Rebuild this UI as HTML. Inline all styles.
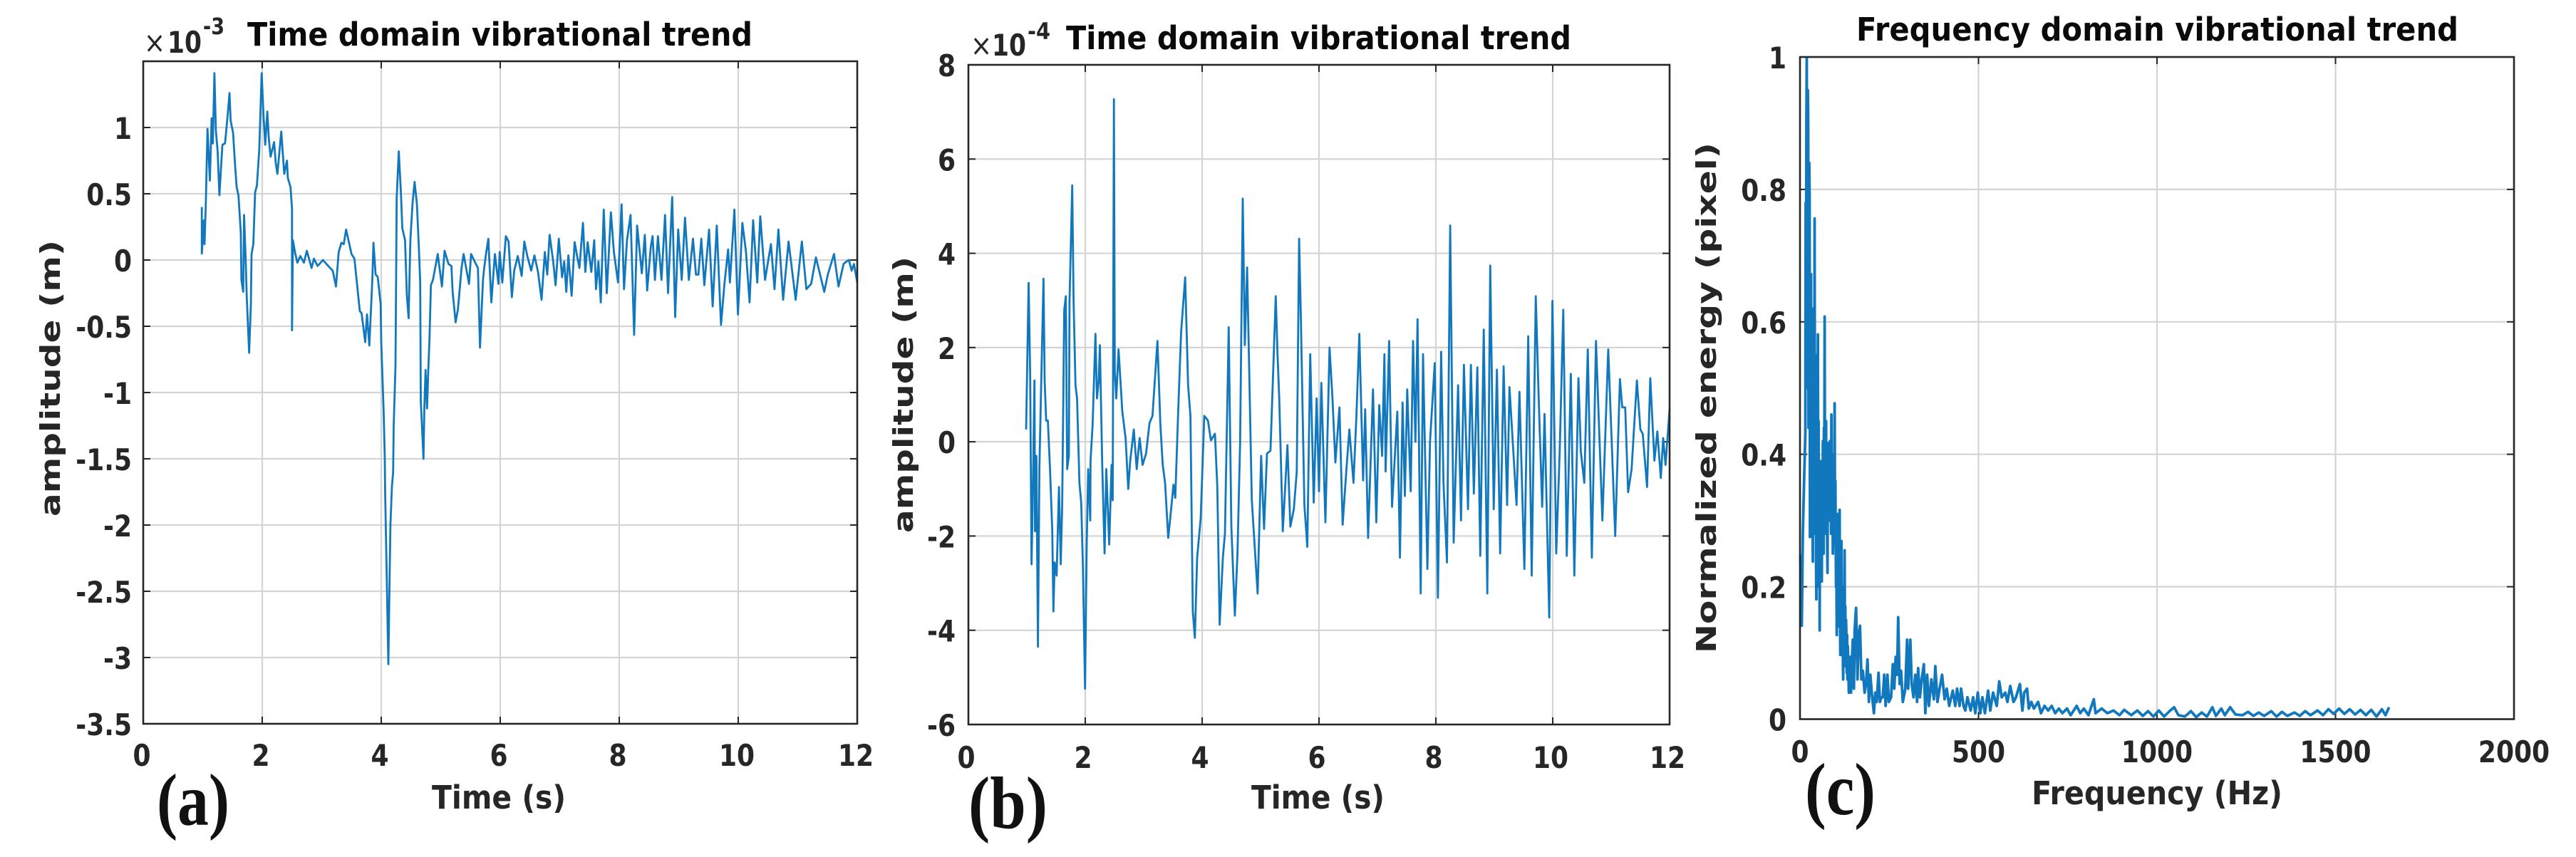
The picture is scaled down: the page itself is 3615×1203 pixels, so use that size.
<!DOCTYPE html>
<html lang="en">
<head>
<meta charset="utf-8">
<title>Vibrational trend charts</title>
<style>
html,body{margin:0;padding:0;background:#fff;width:3615px;height:1203px;overflow:hidden}
svg{display:block}
text{font-family:"DejaVu Sans","Liberation Sans",sans-serif;fill:#262626}
.bold{font-weight:bold}
.title{font-weight:bold;font-size:38px;fill:#0a0a0a}
.axl{font-weight:bold;font-size:38px}
.tick{font-weight:bold;font-size:36px}
.panel{font-family:"Liberation Serif",serif;font-weight:bold;font-size:90px;fill:#111}
</style>
</head>
<body>
<svg id="fig" xmlns="http://www.w3.org/2000/svg" width="3615" height="1203" viewBox="0 0 3615 1203">
  <rect x="0" y="0" width="3615" height="1203" fill="#ffffff"/>

  <g id="chart-a"></g>
  <g id="chart-b"></g>
  <g id="chart-c"></g>

  <!-- Panel a text -->
  <text class="title" transform="translate(347,64) scale(1,1.2)" textLength="709" lengthAdjust="spacingAndGlyphs">Time domain vibrational trend</text>
  <text class="axl" transform="translate(84,725) rotate(-90)" textLength="388" lengthAdjust="spacingAndGlyphs">amplitude (m)</text>
  <text class="axl" transform="translate(606,1135) scale(1,1.2)" textLength="188" lengthAdjust="spacingAndGlyphs">Time (s)</text>
  <text font-size="36" transform="translate(202,74) scale(1,1.15)">×</text>
  <text class="bold" font-size="36" transform="translate(235,74) scale(1,1.15)" textLength="48" lengthAdjust="spacingAndGlyphs">10</text>
  <text class="bold" font-size="28" transform="translate(285,48) scale(1,1.15)" textLength="30" lengthAdjust="spacingAndGlyphs">-3</text>
  <text class="panel" transform="translate(220,1158) scale(1,1.15)" textLength="102" lengthAdjust="spacingAndGlyphs">(a)</text>

  <!-- Panel b text -->
  <text class="title" transform="translate(1496,69) scale(1,1.2)" textLength="709" lengthAdjust="spacingAndGlyphs">Time domain vibrational trend</text>
  <text class="axl" transform="translate(1281,748) rotate(-90)" textLength="388" lengthAdjust="spacingAndGlyphs">amplitude (m)</text>
  <text class="axl" transform="translate(1756,1135) scale(1,1.2)" textLength="187" lengthAdjust="spacingAndGlyphs">Time (s)</text>
  <text font-size="36" transform="translate(1362,78) scale(1,1.15)">×</text>
  <text class="bold" font-size="36" transform="translate(1392,78) scale(1,1.15)" textLength="48" lengthAdjust="spacingAndGlyphs">10</text>
  <text class="bold" font-size="28" transform="translate(1442,55) scale(1,1.15)" textLength="32" lengthAdjust="spacingAndGlyphs">-4</text>
  <text class="panel" transform="translate(1359,1162) scale(1,1.15)" textLength="111" lengthAdjust="spacingAndGlyphs">(b)</text>

  <!-- Panel c text -->
  <text class="title" transform="translate(2605,57) scale(1,1.2)" textLength="845" lengthAdjust="spacingAndGlyphs">Frequency domain vibrational trend</text>
  <text class="axl" transform="translate(2408,917) rotate(-90)" textLength="717" lengthAdjust="spacingAndGlyphs">Normalized energy (pixel)</text>
  <text class="axl" transform="translate(2851,1129) scale(1,1.2)" textLength="352" lengthAdjust="spacingAndGlyphs">Frequency (Hz)</text>
  <text class="panel" transform="translate(2533,1143) scale(1,1.15)" textLength="99" lengthAdjust="spacingAndGlyphs">(c)</text>
</svg>

<script>
// ---------- Chart A data (time in s, amplitude in 1e-3 m) ----------
const timeA = [
.985,.985,1.02,1.03,1.05,1.08,1.12,1.14,1.15,1.17,
1.196,1.22,1.25,1.28,1.33,1.375,1.42,1.45,1.47,1.51,
1.54,1.57,1.60,1.64,1.65,1.68,1.695,1.72,1.74,1.78,
1.81,1.82,1.85,1.88,1.91,1.95,1.99,2.02,2.05,2.085,
2.11,2.14,2.2,2.225,2.255,2.32,2.37,2.415,2.43,2.475,
2.50,2.50,2.515,2.55,2.59,2.64,2.70,2.75,2.83,2.87,
2.93,3.02,3.12,3.185,3.24,3.285,3.33,3.37,3.41,3.5,
3.55,3.64,3.67,3.73,3.76,3.80,3.85,3.87,3.905,3.94,
3.99,4.0,4.04,4.06,4.065,4.08,4.12,4.14,4.155,4.18,
4.2,4.21,4.24,4.26,4.295,4.33,4.355,4.40,4.43,4.46,
4.49,4.525,4.56,4.6,4.63,4.655,4.665,4.71,4.725,4.745,
4.77,4.79,4.81,4.835,4.87,4.95,5.02,5.065,5.13,5.18,
5.2,5.25,5.29,5.35,5.385,5.475,5.51,5.58,5.625,5.66,
5.71,5.73,5.76,5.8,5.85,5.91,5.97,5.99,6.035,6.095,
6.14,6.195,6.235,6.295,6.36,6.405,6.455,6.52,6.575,6.635,
6.695,6.75,6.79,6.83,6.89,6.93,6.985,7.04,7.075,7.11,
7.145,7.2,7.25,7.29,7.33,7.39,7.43,7.47,7.53,7.58,
7.61,7.65,7.69,7.74,7.79,7.86,7.91,7.98,8.04,8.08,
8.13,8.19,8.25,8.30,8.38,8.43,8.47,8.53,8.56,8.6,
8.65,8.71,8.77,8.82,8.89,8.94,8.99,9.05,9.105,9.17,
9.24,9.29,9.33,9.38,9.43,9.51,9.57,9.64,9.71,9.77,
9.83,9.86,9.935,9.995,10.07,10.13,10.19,10.25,10.32,10.37,
10.45,10.55,10.61,10.675,10.755,10.845,10.965,11.07,11.145,11.225,
11.305,11.445,11.505,11.61,11.685,11.77,11.82,11.86,11.905,11.945,
12.0];
const ampA = [
.40,.05,.30,.12,.40,.99,.60,.92,1.07,.88,
1.41,.98,.82,.49,.87,.88,1.10,1.26,1.05,.96,
.74,.55,.49,.21,-.15,-.24,.34,.03,-.28,-.70,
-.33,.045,.12,.51,.56,.83,1.41,1.10,.87,1.12,
.92,.78,.89,.74,.65,.97,.65,.75,.62,.55,
.385,-.53,.15,.06,-.02,.03,-.02,.07,-.06,.01,
-.045,0,-.05,-.08,-.2,.06,.13,.12,.23,.045,
.01,-.385,-.40,-.62,-.41,-.645,-.15,.13,-.11,-.125,
-.33,-.62,-1.13,-1.5,-1.72,-2.1,-3.05,-2.41,-2,-1.71,
-1.6,-1.25,-.8,.47,.82,.51,.24,.15,-.26,-.44,
.15,.42,.59,.42,.12,-.17,-1.06,-1.5,-1.12,-.83,
-1.12,-.83,-.62,-.19,-.15,.045,-.2,.07,-.03,-.045,
-.24,-.47,-.37,-.06,.045,-.18,.045,-.02,-.06,-.66,
-.15,-.06,.045,.16,-.32,.045,-.18,.06,-.17,.18,
.14,-.28,-.08,.03,-.12,.14,.03,-.08,.035,-.09,
-.3,.06,-.11,.19,-.01,-.19,.16,-.13,-.01,-.24,
.035,-.27,.135,.035,-.06,.28,-.09,.135,-.09,.15,
-.22,-.01,-.32,.38,-.25,.36,.06,-.17,.42,-.22,
.15,.34,-.565,.26,-.1,.19,-.23,.1,.18,-.15,
.18,-.15,.34,-.25,.475,-.43,.23,-.15,.32,-.15,
.16,-.11,-.11,.16,-.19,.23,-.35,.26,-.49,-.17,
.08,-.17,.38,-.41,.28,.06,-.32,.3,-.17,.33,
-.15,.12,-.22,.23,-.3,.14,-.3,.14,-.22,-.18,
.02,-.24,-.11,.045,-.2,-.03,-.01,0,-.08,-.03,
-.17];
const xTicksA = [0,2,4,6,8,10,12];
const yTicksA = [-3.5,-3,-2.5,-2,-1.5,-1,-0.5,0,0.5,1];

// ---------- Chart B data (time in s, amplitude in 1e-4 m) ----------
const timeB = [
.988,1.03,1.057,1.08,1.10,1.13,1.14,1.163,1.19,1.215,
1.24,1.285,1.305,1.33,1.36,1.40,1.435,1.455,1.475,1.51,
1.55,1.58,1.605,1.64,1.667,1.69,1.72,1.73,1.777,1.8,
1.833,1.86,1.90,1.93,1.96,1.996,2.024,2.05,2.085,2.09,
2.125,2.175,2.2,2.23,2.25,2.29,2.33,2.36,2.41,2.45,
2.47,2.49,2.505,2.53,2.57,2.634,2.69,2.735,2.77,2.83,
2.88,2.93,2.98,3.04,3.10,3.15,3.235,3.285,3.325,3.366,
3.42,3.47,3.51,3.54,3.59,3.64,3.71,3.76,3.8,3.84,
3.875,3.915,3.976,4.037,4.1,4.15,4.22,4.26,4.30,4.355,
4.39,4.455,4.5,4.56,4.605,4.65,4.695,4.73,4.77,4.8,
4.85,4.95,5.01,5.06,5.11,5.17,5.26,5.29,5.32,5.38,
5.46,5.51,5.57,5.62,5.66,5.69,5.75,5.80,5.85,5.91,
5.96,6.0,6.04,6.11,6.18,6.23,6.28,6.35,6.405,6.47,
6.52,6.59,6.64,6.69,6.755,6.79,6.84,6.925,6.98,7.03,
7.08,7.12,7.14,7.2,7.25,7.34,7.385,7.43,7.47,7.51,
7.57,7.61,7.65,7.687,7.74,7.78,7.855,7.90,7.98,8.035,
8.09,8.13,8.19,8.245,8.305,8.38,8.43,8.48,8.55,8.6,
8.65,8.71,8.76,8.82,8.88,8.93,8.99,9.045,9.1,9.16,
9.22,9.26,9.38,9.43,9.515,9.58,9.64,9.71,9.76,9.82,
9.86,9.94,9.995,10.06,10.12,10.18,10.24,10.31,10.37,10.44,
10.48,10.54,10.6,10.67,10.74,10.85,10.95,11.07,11.15,11.19,
11.24,11.29,11.35,11.44,11.5,11.54,11.615,11.67,11.74,11.79,
11.85,11.89,11.93,12.0];
const ampB = [
.26,3.37,1.39,-2.6,-1.34,1.3,-1.9,-.3,-4.35,-.58,
.92,3.46,1.3,.45,.45,-.68,-1.9,-3.6,-2.56,-2.84,
-.96,-2.6,-1.34,2.8,3.09,-.58,-.3,2.99,5.44,2.99,
1.2,.92,-.87,-1.29,-2.65,-5.24,-2.18,-.58,-1.67,-.4,
.36,2.29,.92,1.3,2.05,-.49,-2.37,-.58,-2.18,-.49,
-1.24,7.27,1.49,.92,1.96,.64,.08,-1,-.4,.26,
-.58,.08,-.49,-.25,.4,.55,2.14,.36,-.49,-.87,
-2.04,-1.43,-.91,-1.19,.64,2.33,3.49,1.2,.55,-3.6,
-4.16,-2.46,-1.62,.55,.45,.03,.17,-.96,-3.88,-2.46,
-1.95,2.43,-1.8,-3.69,-2.37,-.02,5.16,2.05,3.7,1.86,
-1.24,-3.22,-.3,-1.85,-.25,-.19,3.09,1.86,.92,-1.9,
-.07,-1.8,-1.43,-.63,4.31,2.6,-1.34,-2.23,1.86,-1.29,
.92,-1.05,1.25,-1.71,2.0,.92,-.44,.73,-1.76,-.58,
.26,-.87,.55,2.29,-.82,.69,-2.04,1.11,-1.71,.78,
-.3,1.86,-.63,2.14,-1.38,.64,-2.46,.83,-1.15,1.11,
-1.05,2.14,0,2.6,-3.22,1.86,-2.7,0,1.67,-3.31,
1.91,-.87,-2.56,4.59,-2.14,1.2,-1.67,1.63,-1.43,1.63,
-1.1,1.58,-2.42,2.38,-3.22,3.74,-1.43,1.53,-2.37,1.6,
-1.34,1.16,-1.34,1.06,-2.7,2.24,-2.84,3.09,.92,-1.38,
.59,-3.73,2.99,-2.37,-.2,2.8,-2.42,1.44,-2.84,1.35,
-.2,-.87,1.96,-2.46,2.14,-1.67,1.96,-2,1.33,.73,
.73,-1.07,-.58,1.3,.26,.17,-.96,1.35,-.4,.22,
-.77,.08,-.49,.69];
const xTicksB = [0,2,4,6,8,10,12];
const yTicksB = [-6,-4,-2,0,2,4,6,8];

// ---------- Chart C data (frequency in Hz, normalized energy) ----------
const freqC = [
1,5,8,11,15,16,17,18,19,20,
21,22,23,24,25,26,27,28,29,30,
31,32,33,34,35,36,37,38,39,40,
41,42,43,44,45,46,47,48,49,50,
51,52,53,54,55,56,57,58,59,60,
61,62,63,64,65,66,67,68,69,70,
71,72,73,74,75,76,77,78,79,80,
81,82,83,84,85,86,87,88,89,90,
91,92,93,94,95,96,97,98,99,100,
101,102,103,104,105,106,107,108,109,110,
111,112,113,114,115,116,117,118,119,120,
121,122,123,124,125,126,127,128,129,130,
131,132,133,134,135,
137,140,143,145,148,
151,153,157,161,164,168,172,176,181,185,189,193,197,201,207,211,215,220,224,228,
232,236,240,245,249,255,260,264,268,272,275,279,283,288,295,300,303,309,313,318,
323,328,331,336,341,347,351,356,361,368,375,379,385,391,398,405,411,418,428,435,
440,447,451,458,463,469,478,485,491,498,505,511,518,527,533,541,551,558,565,575,
581,589,598,605,616,623,628,636,641,648,655,667,675,685,695,705,715,725,735,748,
758,775,785,795,808,823,828,845,861,878,895,908,928,945,960,975,990,1005,1020,1035,
1048,1060,1078,1095,1110,1125,1140,1155,1165,1180,1190,1205,1220,1240,1255,1270,1285,1300,1320,1335,
1350,1365,1385,1400,1415,1430,1450,1465,1480,1495,1510,1525,1540,1555,1570,1585,1600,1615,1630,1640,
1650];
const energyC = [
.248,.141,.282,.349,.43,.78,.618,.9,.999,.5,
.551,.95,.901,.44,.484,.84,.787,.275,.58,.36,
.672,.30,.417,.62,.33,.238,.58,.35,.551,.3,
.756,.28,.417,.55,.24,.181,.42,.517,.25,.581,
.2,.45,.282,.38,.134,.39,.383,.22,.376,.28,
.208,.38,.26,.42,.349,.25,.44,.33,.608,.3,
.383,.28,.45,.3,.349,.27,.221,.38,.3,.417,
.3,.4,.309,.42,.3,.383,.28,.46,.3,.38,
.349,.25,.275,.4,.383,.3,.477,.3,.36,.282,
.2,.24,.127,.26,.282,.14,.31,.181,.29,.2,
.316,.16,.097,.25,.13,.269,.16,.114,.2,.1,
.06,.17,.147,.08,.255,.1,.17,.08,.15,.127,
.07,.127,.06,.11,.087,
.04,.094,.04,.08,.12,
.046,.134,.168,.06,.127,.141,.06,.073,.04,.053,.09,.026,.067,.04,.009,.04,.026,.07,.026,.033,
.033,.067,.02,.067,.026,.033,.083,.046,.094,.067,.154,.053,.073,.026,.046,.12,.046,.12,.053,.033,
.067,.026,.077,.033,.06,.083,.009,.067,.02,.06,.03,.08,.026,.046,.067,.03,.046,.02,.043,.02,
.046,.02,.046,.02,.013,.033,.013,.033,.009,.04,.009,.033,.009,.043,.013,.04,.02,.057,.033,.04,
.026,.05,.026,.033,.053,.013,.04,.046,.016,.026,.016,.026,.009,.02,.013,.02,.009,.016,.009,.016,
.006,.02,.009,.016,.006,.03,.009,.016,.009,.013,.006,.014,.006,.013,.005,.012,.004,.013,.004,.012,
.018,.006,.004,.012,.003,.01,.004,.018,.005,.016,.006,.018,.007,.006,.011,.005,.01,.005,.012,.004,
.011,.005,.01,.005,.012,.006,.013,.006,.015,.008,.016,.008,.015,.007,.014,.006,.014,.004,.015,.006,
.018];
const xTicksC = [0,500,1000,1500,2000];
const yTicksC = [0,0.2,0.4,0.6,0.8,1];

const NS = 'http://www.w3.org/2000/svg';

function linearScale(d0, d1, r0, r1) {
  return function (v) { return r0 + (v - d0) * (r1 - r0) / (d1 - d0); };
}

function drawChart(groupId, box, xDomain, yDomain, xTicks, yTicks, xs, ys, opts) {
  const g = document.getElementById(groupId);
  const sx = linearScale(xDomain[0], xDomain[1], box.left, box.right);
  const sy = linearScale(yDomain[0], yDomain[1], box.bottom, box.top);

  function line(x1, y1, x2, y2, stroke, width) {
    const el = document.createElementNS(NS, 'line');
    el.setAttribute('x1', x1);
    el.setAttribute('y1', y1);
    el.setAttribute('x2', x2);
    el.setAttribute('y2', y2);
    el.setAttribute('stroke', stroke);
    el.setAttribute('stroke-width', width);
    g.appendChild(el);
    return el;
  }

  // vertical grid, ticks and labels
  xTicks.forEach(function (t) {
    const x = sx(t);
    if (t !== xDomain[0] && t !== xDomain[1]) {
      const gl = line(x, box.top, x, box.bottom, '#d4d4d4', 2.2);
      
      
      const tk1 = line(x, box.bottom, x, box.bottom - 10, '#262626', 2);
      
      
      const tk2 = line(x, box.top, x, box.top + 10, '#262626', 2);
      
      
    }
    const lab = document.createElementNS(NS, 'text');
    lab.setAttribute('class', 'tick');
    lab.setAttribute('text-anchor', 'middle');
    lab.setAttribute('transform', 'translate(' + (x + opts.xLabelDx) + ',' + opts.xLabelY + ') scale(1,1.15)');
    lab.textContent = String(t);
    
    
    g.appendChild(lab);
  });

  // horizontal grid, ticks and labels
  yTicks.forEach(function (t) {
    const y = sy(t);
    if (t !== yDomain[0] && t !== yDomain[1]) {
      const gl = line(box.left, y, box.right, y, '#d4d4d4', 2.2);
      
      
      const tk1 = line(box.left, y, box.left + 10, y, '#262626', 2);
      
      
      const tk2 = line(box.right, y, box.right - 10, y, '#262626', 2);
      
      
    }
    const lab = document.createElementNS(NS, 'text');
    lab.setAttribute('class', 'tick');
    lab.setAttribute('text-anchor', 'end');
    lab.setAttribute('transform', 'translate(' + opts.yLabelX + ',' + (y + 16) + ') scale(1,1.15)');
    lab.textContent = String(t);
    
    
    g.appendChild(lab);
  });

  // series line
  let d = '';
  for (let i = 0; i < xs.length; i++) {
    d += (i ? 'L' : 'M') + sx(xs[i]).toFixed(1) + ' ' + sy(ys[i]).toFixed(1);
  }
  const path = document.createElementNS(NS, 'path');
  path.setAttribute('d', d);
  path.setAttribute('fill', 'none');
  path.setAttribute('stroke', '#1278bd');
  path.setAttribute('stroke-width', opts.strokeWidth);
  path.setAttribute('stroke-linejoin', 'round');
  
  
  g.appendChild(path);

  // axes frame
  const frame = document.createElementNS(NS, 'rect');
  frame.setAttribute('x', box.left);
  frame.setAttribute('y', box.top);
  frame.setAttribute('width', box.right - box.left);
  frame.setAttribute('height', box.bottom - box.top);
  frame.setAttribute('fill', 'none');
  frame.setAttribute('stroke', '#262626');
  frame.setAttribute('stroke-width', 2.6);
  
  
  g.appendChild(frame);
}

drawChart('chart-a', {left: 201, right: 1203, top: 86, bottom: 1016}, [0, 12], [-3.5, 1.5],
  xTicksA, yTicksA, timeA, ampA, {strokeWidth: 2.8, xLabelDx: -2, xLabelY: 1075, yLabelX: 185});
drawChart('chart-b', {left: 1359, right: 2343, top: 91, bottom: 1017}, [0, 12], [-6, 8],
  xTicksB, yTicksB, timeB, ampB, {strokeWidth: 2.8, xLabelDx: -3, xLabelY: 1078, yLabelX: 1341});
drawChart('chart-c', {left: 2526, right: 3528, top: 80, bottom: 1009.5}, [0, 2000], [0, 1],
  xTicksC, yTicksC, freqC, energyC, {strokeWidth: 3.8, xLabelDx: 0, xLabelY: 1070, yLabelX: 2507});
</script>
</body>
</html>
